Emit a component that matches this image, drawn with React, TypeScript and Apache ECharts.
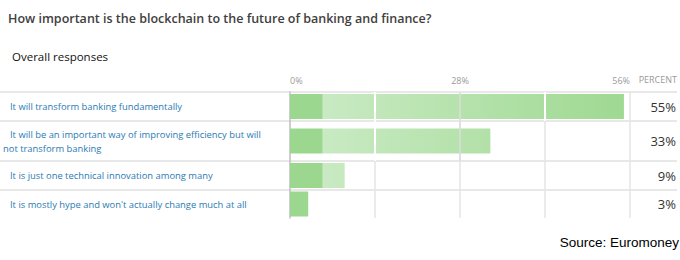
import React, { useEffect, useRef } from "react";
import * as echarts from "echarts";

const title = "How important is the blockchain to the future of banking and finance?";
const subtitle = "Overall responses";
const source = "Source: Euromoney";
const categories = [
  "It will transform banking fundamentally",
  "It will be an important way of improving efficiency but will\nnot transform banking",
  "It is just one technical innovation among many",
  "It is mostly hype and won't actually change much at all",
];
const values = [55, 33, 9, 3];
const highlight = [5.4, 5.4, 5.4, 3];
const valueLabels = ["55%", "33%", "9%", "3%"];
const axisMax = 56;
const axisStep = 14;
const labelledTicks = [0, 28, 56];
const whiteGaps = [14, 42];
const grayLines = [28];

// layout only
const rowTops = [92, 121, 161, 190];
const rowHeights = [29, 40, 29, 28];
const gridLeft = 288;
const gridRight = 50;

const FONT = "'Open Sans', sans-serif";

export default function App() {
  const ref = useRef<HTMLDivElement>(null);
  useEffect(() => {
    if (!ref.current) return;
    const chart = echarts.init(ref.current, null, { renderer: "svg" });
    const gradient = new echarts.graphic.LinearGradient(
      321, 0, 623, 0,
      [
        { offset: 0, color: "#c9eac3" },
        { offset: 1, color: "#9fd992" },
      ],
      true
    );
    const grids = categories.map((_, i) => ({
      left: gridLeft,
      right: gridRight,
      top: rowTops[i],
      height: rowHeights[i],
      containLabel: false,
    }));
    const xAxes = categories.map((_, i) => ({
      type: "value",
      gridIndex: i,
      min: 0,
      max: axisMax,
      interval: axisStep,
      position: "top",
      axisLine: { show: false },
      axisTick: { show: false },
      axisLabel: {
        show: i === 0,
        margin: 7,
        fontFamily: FONT,
        fontSize: 9,
        color: "#9a9a9a",
        alignMinLabel: "left",
        alignMaxLabel: "right",
        formatter: (v: number) => (labelledTicks.includes(v) ? v + "%" : ""),
      },
      splitLine: { show: true, lineStyle: { color: "#e4e4e4", width: 1.5 } },
    }));
    const yAxes: any[] = [];
    categories.forEach((c, i) => {
      yAxes.push({
        type: "category",
        gridIndex: i,
        data: [c],
        axisLine: { show: true, lineStyle: { color: "#c4c4c4", width: 1.5 } },
        axisTick: { show: false },
        splitLine: { show: false },
        axisLabel: {
          align: "left",
          margin: gridLeft - 1,
          formatter: (v: string) =>
            v
              .split("\n")
              .map((l, k) => (k === 0 ? `{a|${l}}` : `{b|${l}}`))
              .join("\n"),
          rich: {
            a: { fontFamily: FONT, fontSize: 9.4, color: "#2b7bb5", padding: [0, 0, 0, 7], lineHeight: 14 },
            b: { fontFamily: FONT, fontSize: 9.4, color: "#2b7bb5", lineHeight: 14 },
          },
        },
      });
      yAxes.push({
        type: "category",
        gridIndex: i,
        position: "right",
        data: [valueLabels[i]],
        axisLine: { show: false },
        axisTick: { show: false },
        axisLabel: { align: "right", margin: 46, fontFamily: FONT, fontSize: 13, color: "#333" },
      });
    });
    const series: any[] = [];
    categories.forEach((_, i) => {
      const rest = values[i] - highlight[i];
      const marks = [
        ...whiteGaps
          .filter((g) => g < values[i])
          .map((g) => ({ xAxis: g, lineStyle: { color: "#ffffff", width: 2, type: "solid" } })),
        ...grayLines
          .filter((g) => g < values[i])
          .map((g) => ({ xAxis: g, lineStyle: { color: "#dcdcdc", width: 1.5, type: "solid" } })),
      ];
      series.push({
        type: "bar",
        xAxisIndex: i,
        yAxisIndex: i * 2,
        stack: "s" + i,
        barWidth: 25,
        data: [highlight[i]],
        itemStyle: { color: "#9bd78e" },
        silent: true,
      });
      series.push({
        type: "bar",
        xAxisIndex: i,
        yAxisIndex: i * 2,
        stack: "s" + i,
        barWidth: 25,
        data: [rest],
        itemStyle: { color: gradient },
        silent: true,
        markLine: marks.length
          ? { silent: true, symbol: "none", label: { show: false }, lineStyle: { type: "solid" }, data: marks }
          : undefined,
      });
    });
    const sepLines = rowTops.map((y) => ({
      type: "line",
      shape: { x1: 0, y1: y, x2: 677, y2: y },
      style: { stroke: "#e8e8e8", lineWidth: 2 },
      z: -1,
    }));
    chart.setOption({
      animation: false,
      grid: grids,
      xAxis: xAxes,
      yAxis: yAxes,
      series,
      graphic: [
        ...sepLines,
        {
          type: "text",
          left: 8,
          top: 12,
          style: { text: title, fontFamily: FONT, fontSize: 12.5, fontWeight: 600, fill: "#404040" },
        },
        {
          type: "text",
          left: 12,
          top: 50,
          style: { text: subtitle, fontFamily: FONT, fontSize: 11.5, fill: "#111" },
        },
        {
          type: "text",
          right: 3,
          top: 75,
          style: { text: "PERCENT", fontFamily: FONT, fontSize: 9, fill: "#9a9a9a" },
        },
        {
          type: "text",
          right: 1,
          top: 235,
          style: { text: source, fontFamily: "'Liberation Sans', Arial, sans-serif", fontSize: 13.5, fill: "#000" },
        },
      ],
    });
    return () => chart.dispose();
  }, []);
  return (
    <div
      ref={ref}
      style={{ position: "fixed", left: 0, top: 0, width: 680, height: 260, background: "#fff" }}
    />
  );
}
